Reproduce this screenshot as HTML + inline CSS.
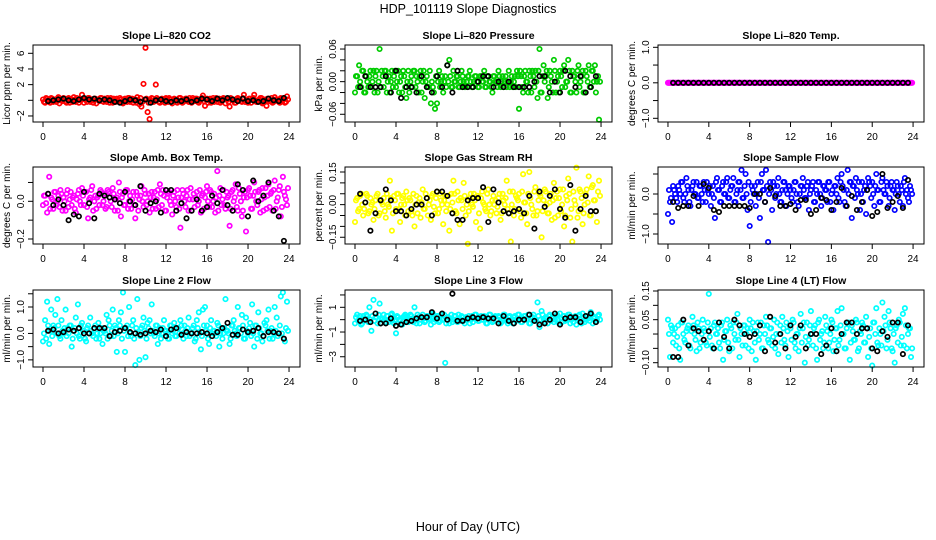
<!DOCTYPE html>
<html><head><meta charset="utf-8"><title>HDP_101119 Slope Diagnostics</title>
<style>html,body{margin:0;padding:0;background:#fff}svg{display:block;font-family:"Liberation Sans",Arial,sans-serif}</style>
</head><body>
<svg id="chart" width="936" height="540" viewBox="0 0 936 540" xmlns="http://www.w3.org/2000/svg">
<rect x="0" y="0" width="936" height="540" fill="#fff"/>
<text x="468" y="13" text-anchor="middle" font-size="12.5">HDP_101119  Slope Diagnostics</text>
<text x="468" y="531" text-anchor="middle" font-size="12.5">Hour of Day (UTC)</text>
</svg>
<script>
const xTickLabels = [0,4,8,12,16,20,24];
const co2Vals = [0.1,-0.3,0.2,-0.1,0.3,-0.2,0.0,0.2,-0.4,0.1,0.3,-0.1,0.2,-0.3,0.1,0.4,-0.2,0.0,0.2,0.7,-0.3,0.1,0.3,-0.2,0.0,0.2,-0.4,0.1,0.3,-0.1,0.2,-0.2,0.1,0.3,-0.3,0.0,0.2,-0.1,0.1,-0.4,0.2,-0.2,0.3,0.0,-0.3,0.1,0.4,-0.5,-0.8,2.1,6.7,-1.5,-2.4,0.3,-0.2,2.0,0.1,-0.3,0.2,0.0,0.3,-0.2,0.1,-0.4,0.2,0.0,-0.1,0.3,-0.3,0.1,0.2,-0.2,0.0,0.3,-0.1,0.2,-0.3,0.1,0.6,-0.7,0.2,0.0,-0.3,0.3,0.1,-0.2,0.2,-0.1,0.3,-0.4,0.1,-0.8,0.2,0.0,-0.3,0.3,0.1,-0.2,0.7,0.0,-0.3,0.2,0.1,0.7,-0.2,0.0,0.3,-0.4,0.1,-0.7,0.2,0.0,-0.3,0.4,0.1,-0.2,0.3,0.0,-0.3,0.5];
const co2Vals2 = [-0.2,0.3,0.0,-0.3,0.2,0.1,-0.2,0.4,0.0,-0.1,0.2,-0.3,0.3,0.0,-0.2,0.1,0.3,-0.3,0.0,0.2,0.1,-0.2,0.3,0.0,-0.3,0.2,0.1,-0.1,0.3,-0.2,0.0,0.3,-0.3,0.1,0.2,-0.2,0.0,0.3,-0.3,0.1,0.0,0.3,-0.2,0.2,0.1,-0.3,0.0,0.3,-0.2,0.1,0.2,-0.3,0.0,0.2,-0.1,0.3,-0.2,0.1,0.0,-0.3,0.2,0.3,-0.2,0.0,0.1,-0.3,0.3,0.0,-0.2,0.2,0.0,0.3,-0.3,0.1,0.2,-0.2,0.0,0.3,-0.1,0.1,-0.3,0.2,0.0,-0.2,0.3,0.1,-0.3,0.0,0.2,0.1,-0.2,0.3,0.0,-0.3,0.2,0.1,-0.1,0.3,-0.2,0.0,0.2,-0.3,0.3,0.0,-0.2,0.1,0.3,-0.3,0.0,0.2,-0.1,0.3,-0.2,0.1,0.0,-0.3,0.2,0.3,-0.2,0.1];
const co2Black = [-0.1,0.0,0.1,0.2,0.0,-0.1,0.1,0.3,0.1,0.2,0.0,0.1,0.0,-0.2,-0.3,-0.1,0.1,0.0,-0.2,0.1,-0.3,0.0,0.1,-0.1,-0.2,0.0,-0.1,0.1,-0.2,0.0,0.2,0.1,-0.1,0.2,0.0,0.3,0.1,-0.1,0.2,-0.1,0.0,-0.2,-0.1,0.2,0.0,-0.1,0.3];
const presVals = [-0.02,0.01,0.03,-0.01,0.02,-0.02,0.00,0.01,-0.01,0.02,0.01,-0.02,0.06,0.02,-0.01,0.02,0.00,-0.02,0.02,0.01,-0.01,0.02,0.00,-0.02,0.01,-0.03,0.02,0.00,-0.01,0.02,0.01,-0.02,0.02,0.00,-0.03,0.01,-0.01,-0.04,-0.01,-0.05,-0.04,0.02,0.00,-0.02,0.01,0.03,0.04,-0.01,0.02,0.00,0.01,-0.01,0.02,0.00,-0.01,0.01,0.02,-0.01,0.00,0.01,-0.01,0.01,0.00,0.02,-0.01,0.01,0.00,-0.02,0.01,0.00,0.02,-0.01,0.01,0.00,-0.01,0.02,0.00,-0.01,0.01,0.02,-0.05,0.01,-0.02,0.02,0.00,0.02,-0.02,0.01,0.02,-0.03,0.06,-0.02,0.03,0.01,-0.03,0.02,0.00,0.04,-0.02,0.01,0.02,-0.01,0.03,0.00,0.04,-0.02,0.02,0.01,-0.02,0.03,0.00,0.02,-0.02,0.01,0.03,-0.01,0.02,0.03,0.00,-0.07];
const presVals2 = [0.01,-0.01,0.00,0.02,-0.02,0.01,-0.01,0.02,0.00,-0.02,0.02,0.00,-0.01,0.01,0.02,-0.02,0.01,0.00,-0.01,0.02,0.00,-0.02,0.01,0.02,-0.01,0.00,-0.02,0.01,0.02,-0.01,0.00,0.01,-0.02,0.02,0.00,-0.01,0.02,0.00,-0.02,0.01,0.00,-0.01,0.01,0.00,-0.01,0.00,0.01,-0.01,0.00,0.01,-0.01,0.00,0.01,-0.01,0.00,0.01,0.00,-0.01,0.01,0.00,-0.01,0.01,0.00,-0.01,0.01,0.00,-0.01,0.01,0.00,-0.01,0.01,0.00,-0.01,0.01,0.00,-0.01,0.01,0.00,-0.01,0.01,0.02,-0.01,0.01,0.00,-0.02,0.01,0.02,-0.01,0.00,0.02,-0.02,0.01,0.00,0.02,-0.01,0.01,-0.02,0.02,0.00,-0.02,0.01,0.02,-0.01,0.00,0.02,-0.02,0.01,0.00,0.02,-0.01,0.01,-0.02,0.02,0.00,-0.01,0.02,0.00,-0.02,0.01,0.00];
const presBlack = [-0.01,0.01,-0.01,-0.01,-0.01,0.01,-0.02,0.02,-0.03,-0.01,-0.01,-0.02,0.01,-0.01,-0.02,0.01,-0.01,0.03,-0.02,0.02,-0.01,-0.01,-0.01,0.00,0.01,0.01,-0.01,0.00,-0.01,0.00,-0.01,-0.01,-0.01,-0.01,0.00,0.01,0.01,-0.02,0.00,-0.02,0.02,0.01,-0.01,0.01,-0.02,-0.01,0.01];
const tempVals = [0,0,0,0,0,0,0,0,0,0,0,0,0,0,0,0,0,0,0,0,0,0,0,0,0,0,0,0,0,0,0,0,0,0,0,0,0,0,0,0,0,0,0,0,0,0,0,0,0,0,0,0,0,0,0,0,0,0,0,0,0,0,0,0,0,0,0,0,0,0,0,0,0,0,0,0,0,0,0,0,0,0,0,0,0,0,0,0,0,0,0,0,0,0,0,0,0,0,0,0,0,0,0,0,0,0,0,0,0,0,0,0,0,0,0,0,0,0,0,0];
const tempVals2 = [0,0,0,0,0,0,0,0,0,0,0,0,0,0,0,0,0,0,0,0,0,0,0,0,0,0,0,0,0,0,0,0,0,0,0,0,0,0,0,0,0,0,0,0,0,0,0,0,0,0,0,0,0,0,0,0,0,0,0,0,0,0,0,0,0,0,0,0,0,0,0,0,0,0,0,0,0,0,0,0,0,0,0,0,0,0,0,0,0,0,0,0,0,0,0,0,0,0,0,0,0,0,0,0,0,0,0,0,0,0,0,0,0,0,0,0,0,0,0,0];
const tempBlack = [0,0,0,0,0,0,0,0,0,0,0,0,0,0,0,0,0,0,0,0,0,0,0,0,0,0,0,0,0,0,0,0,0,0,0,0,0,0,0,0,0,0,0,0,0,0,0];
const ambVals = [-0.02,0.03,-0.06,0.13,0.02,-0.04,0.05,0.00,-0.03,0.04,0.02,-0.05,0.06,0.01,-0.02,0.03,-0.06,0.04,0.00,0.07,-0.02,0.05,-0.09,0.02,0.08,0.00,-0.04,0.03,0.06,-0.02,0.04,-0.03,0.05,0.00,0.07,-0.05,0.02,0.10,-0.08,0.04,-0.02,0.06,0.00,-0.04,0.05,-0.09,0.03,0.01,0.08,-0.03,0.04,0.00,-0.06,0.05,0.02,-0.04,0.06,0.09,-0.02,0.03,-0.05,0.04,0.00,-0.07,0.05,-0.03,0.02,-0.14,0.06,0.00,0.03,-0.05,0.07,0.01,-0.03,0.05,0.00,-0.06,0.04,0.02,0.08,-0.03,0.05,0.00,-0.06,0.16,0.03,-0.02,0.06,-0.04,0.02,-0.13,0.05,0.00,0.09,-0.05,0.04,-0.08,0.02,-0.16,0.06,0.03,-0.04,0.10,0.00,0.05,-0.06,0.07,0.02,-0.04,0.09,0.04,-0.05,0.11,0.00,0.06,-0.08,0.13,0.03,-0.02];
const ambVals2 = [0.03,-0.01,0.04,-0.04,0.01,0.05,-0.02,0.03,0.06,-0.05,0.00,0.04,-0.03,0.05,0.02,-0.04,0.01,0.06,-0.02,0.03,0.05,-0.03,0.01,0.06,-0.05,0.03,0.02,-0.02,0.05,0.00,-0.04,0.06,0.02,-0.03,0.04,0.01,-0.05,0.05,0.02,-0.02,0.06,-0.04,0.03,0.01,-0.02,0.05,-0.05,0.03,0.00,0.06,-0.02,0.04,0.02,-0.04,0.05,0.01,-0.03,0.04,0.06,-0.05,0.02,0.05,-0.02,0.03,0.00,0.06,-0.04,0.02,0.04,-0.03,0.06,0.01,-0.05,0.04,0.02,-0.02,0.06,0.03,-0.04,0.05,0.00,0.06,-0.03,0.04,0.02,-0.05,0.07,0.01,-0.02,0.05,0.03,-0.04,0.06,0.02,-0.03,0.07,0.00,-0.05,0.05,0.02,0.07,-0.04,0.03,0.05,-0.02,0.06,0.01,-0.05,0.07,0.03,-0.03,0.05,0.06,-0.04,0.02,0.08,-0.03,0.05,0.01,0.07];
const ambBlack = [0.04,-0.02,0.01,-0.02,-0.1,-0.07,-0.08,0.05,-0.01,-0.09,0.04,0.03,0.02,0.01,-0.01,0.05,0.00,-0.02,0.08,-0.05,-0.01,0.00,-0.06,0.06,0.06,-0.05,-0.01,-0.09,-0.05,0.01,-0.05,-0.03,0.03,-0.01,0.06,-0.02,-0.05,0.09,0.06,-0.08,0.11,0.00,0.03,0.10,-0.05,-0.08,-0.21];
const rhVals = [-0.08,0.03,-0.02,0.05,-0.05,0.01,0.04,-0.03,0.00,-0.07,0.02,0.05,-0.04,0.01,0.03,-0.06,0.00,0.11,-0.12,0.04,-0.02,0.05,-0.08,0.03,0.00,0.06,-0.03,0.02,-0.05,-0.10,0.04,0.01,-0.06,0.07,-0.02,0.03,0.00,-0.07,0.05,-0.04,0.06,-0.02,0.02,-0.09,0.04,0.00,-0.12,0.05,0.11,-0.03,0.06,-0.09,0.02,0.10,-0.05,-0.18,0.03,0.00,0.05,-0.08,0.04,-0.11,0.06,0.00,-0.03,0.07,-0.05,0.02,0.00,-0.04,0.03,-0.07,0.05,0.00,0.11,-0.04,-0.17,0.06,-0.02,0.03,0.05,-0.06,0.14,0.01,-0.09,0.15,0.00,-0.05,0.08,-0.03,0.05,-0.15,0.02,0.06,-0.04,0.01,-0.07,0.10,0.03,-0.05,0.07,0.00,-0.10,0.04,0.12,-0.06,-0.17,0.02,0.17,-0.03,0.06,-0.09,0.00,0.07,0.13,-0.05,0.09,0.02,-0.08,0.11];
const rhVals2 = [0.02,-0.03,0.04,0.00,-0.02,0.05,-0.04,0.03,0.01,-0.02,0.04,-0.05,0.02,0.00,-0.03,0.05,-0.01,0.03,-0.04,0.02,0.05,-0.02,0.00,0.04,-0.05,0.02,0.03,-0.03,0.05,0.00,-0.04,0.03,0.01,-0.02,0.05,-0.05,0.02,0.04,-0.01,0.03,-0.04,0.05,0.00,0.02,-0.03,0.04,-0.02,0.01,0.05,-0.04,0.02,0.03,-0.02,0.04,0.00,-0.03,0.05,-0.01,0.02,0.04,-0.04,0.03,0.01,-0.02,0.05,0.00,-0.03,0.04,0.02,-0.01,0.05,-0.04,0.02,0.03,-0.02,0.06,0.00,-0.05,0.04,0.02,-0.03,0.06,0.01,-0.04,0.05,0.03,-0.02,0.06,-0.05,0.02,0.04,-0.03,0.07,0.00,-0.04,0.05,0.02,-0.06,0.06,0.03,-0.03,0.07,-0.05,0.02,0.05,-0.02,0.06,0.00,-0.06,0.07,0.03,-0.04,0.05,0.01,-0.05,0.08,0.02,-0.03,0.06,0.04];
const rhBlack = [0.05,0.01,-0.12,-0.04,0.02,0.07,0.02,-0.03,-0.03,-0.05,-0.02,0.00,0.00,0.03,-0.05,0.06,0.06,0.04,-0.04,-0.07,-0.07,0.02,0.03,0.03,0.08,-0.08,0.07,0.01,-0.03,-0.04,-0.03,-0.02,-0.04,0.04,-0.11,0.06,-0.01,0.04,0.07,-0.02,-0.06,0.09,-0.12,-0.02,0.04,-0.03,-0.03];
const sampVals = [-0.5,-0.2,-0.7,0.1,-0.1,0.2,0.0,0.3,-0.2,0.4,0.1,-0.3,0.2,0.0,0.3,-0.1,0.2,-0.2,0.1,0.3,0.0,-0.3,0.2,-0.6,0.4,0.1,-0.2,0.3,0.0,0.4,-0.1,0.2,0.4,-0.2,0.1,0.3,0.6,-0.1,0.5,-0.4,-0.8,0.2,0.0,-0.3,0.3,-0.6,0.5,0.1,0.6,-1.2,0.3,-0.4,0.2,0.0,0.4,-0.2,0.1,0.3,-0.3,0.2,0.1,-0.2,0.3,0.0,-0.3,0.2,0.4,-0.1,0.2,-0.4,0.1,0.3,-0.2,0.0,0.3,-0.3,0.2,0.1,-0.2,0.3,0.0,-0.4,0.2,0.4,-0.2,0.5,0.1,-0.3,0.6,0.3,-0.6,0.2,0.4,0.0,-0.4,0.3,0.1,-0.5,0.4,0.2,0.3,-0.3,0.5,0.1,-0.2,0.4,0.0,0.3,-0.3,0.2,0.1,-0.4,0.3,0.0,0.2,-0.3,0.4,0.1,-0.2,0.1];
const sampVals2 = [0.1,-0.1,0.2,0.0,-0.2,0.1,0.3,-0.1,0.0,0.2,-0.2,0.1,0.3,0.0,-0.1,0.2,0.0,0.3,-0.2,0.1,0.2,0.0,-0.1,0.3,0.1,-0.2,0.2,0.0,0.3,-0.1,0.1,0.2,-0.2,0.0,0.3,0.1,-0.1,0.2,0.0,0.3,-0.2,0.1,0.2,0.0,-0.1,0.3,0.1,-0.2,0.2,0.0,0.1,0.3,-0.1,0.2,0.0,-0.2,0.3,0.1,0.0,0.2,-0.1,0.1,0.3,-0.2,0.0,0.2,0.1,-0.1,0.3,0.0,0.2,-0.2,0.1,0.3,0.0,-0.1,0.2,0.1,0.3,-0.2,0.1,0.2,0.0,-0.1,0.3,0.2,-0.2,0.1,0.0,0.3,0.2,-0.1,0.1,0.3,0.0,-0.2,0.2,0.1,0.3,-0.1,0.0,0.2,0.1,-0.2,0.3,0.1,0.0,0.2,-0.1,0.3,0.1,0.0,0.2,-0.2,0.1,0.3,0.0,-0.1,0.2,0.0];
const sampBlack = [-0.2,-0.35,-0.3,-0.3,-0.05,-0.3,0.25,0.15,-0.4,-0.45,-0.3,-0.3,-0.3,-0.3,-0.3,-0.35,0.0,0.0,-0.2,0.15,-0.05,-0.3,-0.3,-0.25,-0.4,-0.15,-0.15,-0.5,-0.4,-0.1,-0.15,-0.4,-0.2,0.15,-0.3,-0.05,-0.4,-0.2,0.1,-0.55,-0.45,0.5,-0.35,-0.2,-0.05,-0.35,0.35];
const line2Vals = [-0.3,0.5,1.2,-0.4,0.9,0.3,0.7,1.3,-0.1,0.5,0.0,0.9,0.2,0.3,-0.5,0.1,0.6,1.1,-0.2,0.4,0.1,-0.3,0.3,0.6,0.0,0.2,-0.2,0.4,0.0,-0.4,0.1,0.7,0.5,-0.1,0.9,0.3,-0.7,0.5,0.8,1.55,-0.7,0.3,1.0,-0.1,0.5,-1.2,1.3,-1.0,0.2,0.6,-0.9,0.4,0.5,1.1,0.0,0.3,-0.4,0.2,0.0,0.5,0.1,-0.2,0.3,0.0,0.4,-0.1,0.2,0.5,0.0,0.3,-0.1,0.6,0.0,0.2,-0.3,0.5,0.8,-0.6,0.9,1.0,0.3,-0.4,0.5,0.1,0.0,0.4,-0.5,0.2,0.0,1.3,0.1,-0.4,0.3,0.5,0.0,1.0,0.2,0.7,-0.2,0.6,0.0,0.4,1.1,-0.5,0.3,0.8,0.0,-0.3,0.4,0.5,0.9,0.1,-0.2,1.0,0.6,0.0,1.4,1.55,-0.3,1.2];
const line2Vals2 = [0.0,-0.2,0.3,0.1,-0.1,0.2,0.0,0.3,-0.2,0.1,0.2,-0.1,0.0,0.3,-0.2,0.2,0.0,-0.1,0.3,0.1,-0.2,0.2,0.0,0.1,-0.1,0.3,0.0,-0.2,0.2,0.1,0.0,-0.2,0.3,0.1,-0.1,0.2,0.0,0.3,-0.2,0.1,0.2,-0.1,0.0,0.3,-0.2,0.2,0.0,-0.1,0.3,0.1,-0.2,0.2,0.0,0.1,-0.1,0.3,0.0,-0.2,0.2,0.1,0.0,-0.2,0.3,0.1,-0.1,0.2,0.0,0.3,-0.2,0.1,0.2,-0.1,0.0,0.3,-0.2,0.2,0.0,-0.1,0.3,0.1,-0.2,0.2,0.0,0.1,-0.1,0.3,0.0,-0.2,0.2,0.1,0.0,-0.2,0.3,0.1,-0.1,0.2,0.0,0.3,-0.2,0.1,0.2,-0.1,0.0,0.3,-0.2,0.2,0.0,-0.1,0.3,0.1,-0.2,0.2,0.0,0.1,-0.1,0.3,0.0,-0.2,0.2,0.1];
const line2Black = [0.1,0.15,0.0,0.05,0.15,0.1,0.2,0.0,0.0,0.2,0.2,0.2,-0.1,0.05,0.1,0.2,0.05,0.0,-0.05,0.0,0.1,0.05,0.15,-0.1,0.15,0.2,-0.05,0.05,0.0,0.0,0.05,0.0,-0.1,0.05,0.2,0.4,-0.05,-0.05,0.15,0.05,0.1,0.2,-0.1,0.05,0.05,0.0,-0.2];
const line3Vals = [-0.3,0.4,0.0,-0.4,0.3,0.1,0.3,1.0,-0.9,1.6,0.2,-0.3,1.3,0.0,0.4,-0.2,0.3,0.0,0.5,-0.3,-1.1,0.2,0.0,-0.4,0.3,0.1,-0.2,0.4,0.0,1.0,-0.3,0.2,0.0,0.4,-0.2,0.3,0.1,-0.4,0.5,0.0,0.3,-0.2,0.4,0.0,-3.5,0.2,-0.3,0.4,0.0,0.3,-0.2,0.1,0.3,-0.1,0.2,0.0,-0.3,0.3,0.1,0.4,-0.1,0.2,0.0,0.3,-0.3,0.1,0.4,-0.2,0.2,0.0,0.3,-0.3,0.1,0.4,-0.1,0.2,0.0,-0.3,0.3,0.1,0.4,-0.2,0.1,0.3,0.0,-0.3,0.2,0.4,-0.1,1.4,-0.6,0.7,0.0,0.2,-0.3,0.4,0.1,-0.2,0.3,0.0,0.5,-0.2,0.3,0.0,0.4,-0.3,0.2,0.1,-0.4,0.3,0.0,0.5,-0.2,0.3,0.1,0.6,-0.3,0.2,0.0,0.4];
const line3Vals2 = [0.2,-0.1,0.3,-0.3,0.1,0.4,-0.2,0.0,0.3,-0.1,0.2,0.4,-0.3,0.1,0.0,0.3,-0.2,0.4,0.1,-0.1,0.3,0.0,-0.3,0.2,0.4,-0.1,0.1,0.3,-0.2,0.0,0.4,-0.3,0.2,0.1,-0.1,0.3,0.0,0.4,-0.2,0.1,0.3,-0.1,0.0,0.4,-0.3,0.2,0.1,-0.2,0.3,0.0,0.4,-0.1,0.2,-0.3,0.1,0.3,0.0,-0.2,0.4,0.1,-0.1,0.3,0.0,0.2,-0.3,0.4,0.1,-0.1,0.3,0.0,0.2,-0.2,0.4,0.1,-0.3,0.3,0.0,0.2,-0.1,0.4,0.1,-0.2,0.3,0.0,0.4,-0.3,0.2,0.1,-0.1,0.3,0.0,0.4,-0.2,0.1,0.3,-0.1,0.2,0.0,0.4,-0.3,0.1,0.3,-0.1,0.2,0.4,0.0,-0.2,0.3,0.1,0.4,-0.3,0.2,0.0,0.3,-0.1,0.4,0.1,-0.2,0.3,0.0];
const line3Black = [-0.1,0.0,-0.2,0.5,-0.3,-0.3,0.1,-0.5,-0.4,-0.2,-0.1,0.1,0.2,0.2,0.6,0.1,0.5,0.0,2.1,-0.1,-0.1,0.1,0.2,0.1,0.2,0.1,0.1,-0.3,0.3,-0.1,-0.3,0.0,0.0,0.4,-0.1,-0.4,-0.3,0.0,0.5,-0.4,0.1,0.2,0.2,-0.2,0.3,0.5,-0.2];
const line4Vals = [0.05,-0.08,0.02,0.00,-0.04,0.03,-0.09,0.04,-0.02,0.01,0.03,-0.05,0.06,0.00,-0.06,0.02,-0.03,0.05,0.01,-0.04,0.14,0.02,-0.05,0.04,0.00,-0.03,0.03,-0.09,0.01,0.05,-0.06,0.02,0.04,-0.02,0.07,-0.08,0.00,0.03,-0.04,0.02,0.05,-0.06,0.01,-0.09,0.04,0.00,-0.05,0.03,0.06,-0.02,0.02,-0.04,0.05,0.00,-0.07,0.03,0.06,-0.02,0.04,-0.08,0.02,0.05,-0.03,0.00,-0.06,0.07,0.02,-0.10,0.04,-0.02,0.08,-0.04,0.03,-0.09,0.05,0.00,-0.05,0.06,0.01,-0.03,0.05,-0.06,0.02,0.08,-0.02,0.09,0.00,-0.05,0.04,-0.09,0.03,-0.02,0.05,-0.06,0.01,0.04,-0.03,0.06,-0.08,0.02,-0.11,0.04,0.09,-0.04,0.00,0.11,0.06,-0.05,0.08,0.02,-0.06,-0.10,0.03,0.05,-0.04,0.07,0.09,-0.05,0.02,-0.08];
const line4Vals2 = [0.00,0.03,-0.03,0.02,-0.01,-0.05,0.04,0.00,-0.03,0.02,-0.04,0.01,0.03,-0.02,0.04,-0.05,0.00,0.02,-0.03,0.04,-0.01,-0.04,0.03,0.00,0.02,-0.05,0.04,-0.02,0.01,-0.03,0.03,-0.05,0.00,0.04,-0.02,0.02,-0.04,0.03,0.00,-0.05,0.02,0.04,-0.03,0.01,-0.02,0.04,-0.05,0.00,0.03,-0.03,0.02,-0.01,-0.05,0.04,0.00,-0.03,0.02,-0.04,0.01,0.03,-0.02,0.04,-0.05,0.00,0.02,-0.03,0.04,-0.01,-0.04,0.03,0.00,0.02,-0.05,0.04,-0.02,0.01,-0.03,0.03,-0.05,0.00,0.04,-0.02,0.02,-0.04,0.03,0.00,-0.05,0.02,0.04,-0.03,0.01,-0.02,0.04,-0.05,0.00,0.03,-0.03,0.02,-0.01,-0.05,0.04,0.00,-0.03,0.02,-0.04,0.01,0.03,-0.02,0.04,-0.05,0.00,0.02,-0.03,0.04,-0.01,-0.04,0.03,0.00,0.02,-0.05];
const line4Black = [-0.08,-0.08,0.05,-0.04,0.02,0.01,-0.02,0.01,-0.05,0.04,-0.01,-0.05,0.05,0.03,0.00,-0.01,0.00,0.03,-0.06,0.06,-0.03,0.00,-0.05,0.03,-0.01,0.03,-0.05,0.00,0.00,-0.07,-0.04,0.02,-0.06,0.00,0.04,0.04,0.00,0.02,0.02,-0.05,-0.06,0.01,-0.01,0.04,0.04,-0.07,0.03];
const co2Ticks = [6,4,2,0,-2];
const co2TickLabels = ["6","4","2","","\u22122"];
const presTicks = [0.06,0.04,0.02,0,-0.02,-0.04,-0.06];
const presTickLabels = ["0.06","","","0.00","","","\u22120.06"];
const tempTicks = [1,0.5,0,-0.5,-1];
const tempTickLabels = ["1.0","","0.0","","\u22121.0"];
const ambTicks = [0.1,0,-0.1,-0.2];
const ambTickLabels = ["","0.0","","\u22120.2"];
const rhTicks = [0.15,0.1,0.05,0,-0.05,-0.1,-0.15];
const rhTickLabels = ["0.15","","","0.00","","","\u22120.15"];
const sampTicks = [0.5,0,-0.5,-1];
const sampTickLabels = ["","0.0","","\u22121.0"];
const line2Ticks = [1.5,1,0.5,0,-0.5,-1];
const line2TickLabels = ["","1.0","","0.0","","\u22121.0"];
const line3Ticks = [2,1,0,-1,-2,-3];
const line3TickLabels = ["","1","","\u22121","","\u22123"];
const line4Ticks = [0.15,0.1,0.05,0,-0.05,-0.1];
const line4TickLabels = ["0.15","","0.05","","","\u22120.10"];

const NS = "http://www.w3.org/2000/svg";
const svg = document.getElementById('chart');
function mk(tag, attrs, parent){ const e=document.createElementNS(NS,tag); for(const k in attrs) e.setAttribute(k,attrs[k]); (parent||svg).appendChild(e); return e; }

const colLeft=[33,345,658], colW=[267,267,266], rowTop=[45,167,290], boxH=77;
const X_MIN=-0.976, X_MAX=25.07;
const panels=[
 {name:'co2',title:'Slope Li\u2013820 CO2',ylab:'Licor ppm per min.',color:'#ff0000',vals:co2Vals,vals2:co2Vals2,black:co2Black,ymin:-2.77,ymax:7.06,ticks:co2Ticks,tl:co2TickLabels},
 {name:'pressure',title:'Slope Li\u2013820 Pressure',ylab:'kPa per min.',color:'#00cc00',vals:presVals,vals2:presVals2,black:presBlack,ymin:-0.0742,ymax:0.0674,ticks:presTicks,tl:presTickLabels},
 {name:'temp',title:'Slope Li\u2013820 Temp.',ylab:'degrees C per min.',color:'#ff00ff',vals:tempVals,vals2:tempVals2,black:tempBlack,ymin:-1.104,ymax:1.065,ticks:tempTicks,tl:tempTickLabels},
 {name:'amb-box-temp',title:'Slope Amb. Box Temp.',ylab:'degrees C per min.',color:'#ff00ff',vals:ambVals,vals2:ambVals2,black:ambBlack,ymin:-0.2265,ymax:0.182,ticks:ambTicks,tl:ambTickLabels},
 {name:'gas-rh',title:'Slope Gas Stream RH',ylab:'percent per min.',color:'#ffff00',vals:rhVals,vals2:rhVals2,black:rhBlack,ymin:-0.181,ymax:0.173,ticks:rhTicks,tl:rhTickLabels},
 {name:'sample-flow',title:'Slope Sample Flow',ylab:'ml/min per min.',color:'#0000ff',vals:sampVals,vals2:sampVals2,black:sampBlack,ymin:-1.25,ymax:0.675,ticks:sampTicks,tl:sampTickLabels},
 {name:'line2-flow',title:'Slope Line 2 Flow',ylab:'ml/min per min.',color:'#00ffff',vals:line2Vals,vals2:line2Vals2,black:line2Black,ymin:-1.27,ymax:1.643,ticks:line2Ticks,tl:line2TickLabels},
 {name:'line3-flow',title:'Slope Line 3 Flow',ylab:'ml/min per min.',color:'#00ffff',vals:line3Vals,vals2:line3Vals2,black:line3Black,ymin:-3.83,ymax:2.40,ticks:line3Ticks,tl:line3TickLabels},
 {name:'line4-flow',title:'Slope Line 4 (LT) Flow',ylab:'ml/min per min.',color:'#00ffff',vals:line4Vals,vals2:line4Vals2,black:line4Black,ymin:-0.115,ymax:0.1535,ticks:line4Ticks,tl:line4TickLabels}
];

panels.forEach((p,idx)=>{
  const L=colLeft[idx%3], W=colW[idx%3], T=rowTop[Math.floor(idx/3)], B=T+boxH;
  const xs=t=>L+(t-X_MIN)/(X_MAX-X_MIN)*W;
  const ys=v=>B-(v-p.ymin)/(p.ymax-p.ymin)*boxH;
  const g=mk('g',{});
  
  
  const title=mk('text',{x:L+W/2,y:T-6,'text-anchor':'middle','font-size':10.5,'font-weight':'bold'},g);
  title.textContent=p.title;
  
  
  const yl=mk('text',{x:0,y:0,transform:`translate(${L-23},${T+boxH/2}) rotate(-90)`,'text-anchor':'middle','font-size':10},g);
  yl.textContent=p.ylab;
  
  
  const pts=mk('g',{fill:'none',stroke:p.color,'stroke-width':1.7},g);
  
  
  const n=p.vals.length;
  p.vals.forEach((v,i)=>{
    const t=i*24/n;
    const c=mk('circle',{cx:xs(t).toFixed(1),cy:ys(v).toFixed(1),r:2.2},pts);
    
    
  });
  const n2=p.vals2.length;
  p.vals2.forEach((v,i)=>{
    const t=(i+0.5)*24/n2;
    const c=mk('circle',{cx:xs(t).toFixed(1),cy:ys(v).toFixed(1),r:2.2},pts);
    
    
  });
  const bpts=mk('g',{fill:'none',stroke:'#000','stroke-width':1.7},g);
  
  
  p.black.forEach((v,j)=>{
    const t=0.5*(j+1);
    const c=mk('circle',{cx:xs(t).toFixed(1),cy:ys(v).toFixed(1),r:2.2},bpts);
    
    
  });
  const box=mk('rect',{x:L,y:T,width:W,height:boxH,fill:'none',stroke:'#000','stroke-width':1},g);
  
  
  xTickLabels.forEach(t=>{
    const x=xs(t);
    const tk=mk('line',{x1:x,x2:x,y1:B,y2:B+5,stroke:'#000'},g);
    
    
    const lb=mk('text',{x:x,y:B+18,'text-anchor':'middle','font-size':10},g);
    lb.textContent=String(t);
    
    
  });
  p.ticks.forEach((v,k)=>{
    const y=ys(v);
    const tk=mk('line',{x1:L-5,x2:L,y1:y,y2:y,stroke:'#000'},g);
    
    
    if(p.tl[k]){
      const lb=mk('text',{x:0,y:0,transform:`translate(${L-9},${y}) rotate(-90)`,'text-anchor':'middle','font-size':10},g);
      lb.textContent=p.tl[k];
      
      
    }
  });
});
</script>
</body></html>
